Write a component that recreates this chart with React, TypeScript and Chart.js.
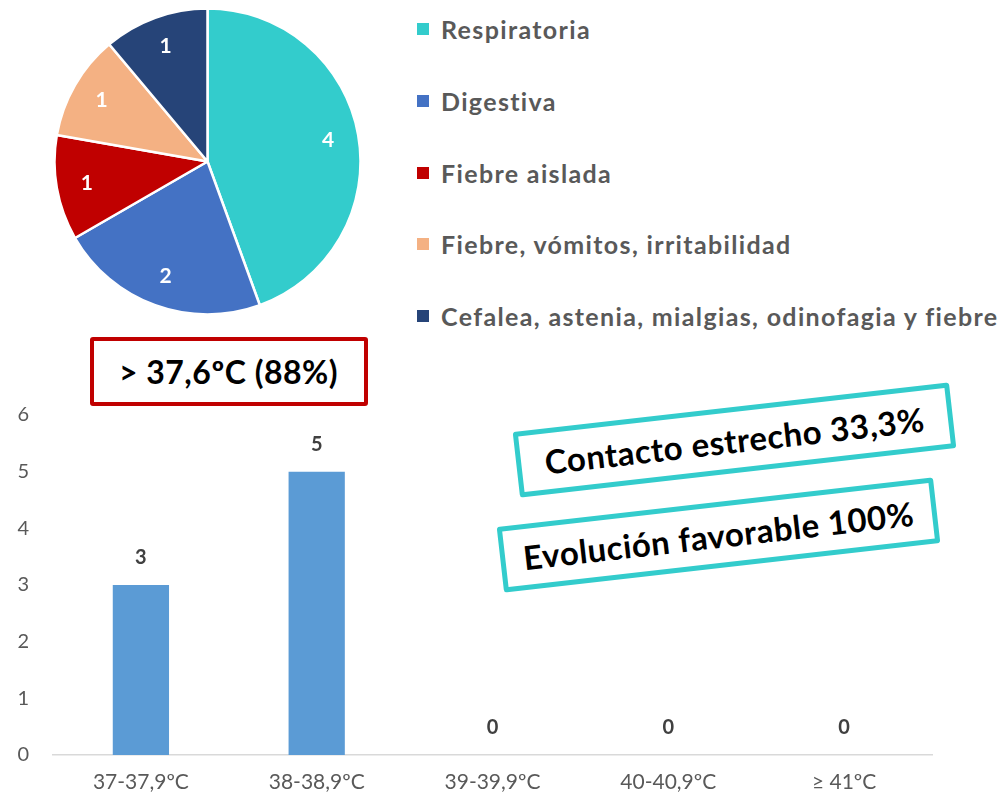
import React, { useEffect, useRef } from "react";
import { Chart, registerables } from "chart.js";

Chart.register(...registerables);

// Clinical presentation (pie)
const pieLabels = [
  "Respiratoria",
  "Digestiva",
  "Fiebre aislada",
  "Fiebre, vómitos, irritabilidad",
  "Cefalea, astenia, mialgias, odinofagia y fiebre",
];
const pieValues = [4, 2, 1, 1, 1];
const pieColors = ["#33CCCC", "#4472C4", "#C00000", "#F4B183", "#264478"];

// Maximum temperature (bars)
const barCategories = ["37-37,9ºC", "38-38,9ºC", "39-39,9ºC", "40-40,9ºC", "≥ 41ºC"];
const barValues = [3, 5, 0, 0, 0];
const barColor = "#5B9BD5";
const yMin = 0;
const yMax = 6;
const yStep = 1;

const feverNote = "> 37,6ºC (88%)";
const contactNote = "Contacto estrecho 33,3%";
const outcomeNote = "Evolución favorable 100%";

const FONT = "Lato, 'Open Sans', sans-serif";

// Writes each slice's value inside the slice
const pieValueLabels = {
  id: "pieValueLabels",
  afterDatasetsDraw(chart: any) {
    const ctx = chart.ctx;
    const meta = chart.getDatasetMeta(0);
    const data = chart.data.datasets[0].data;
    ctx.save();
    ctx.fillStyle = "#FFFFFF";
    ctx.font = `bold 21px ${FONT}`;
    ctx.textAlign = "center";
    ctx.textBaseline = "middle";
    meta.data.forEach((arc: any, i: number) => {
      const { x, y, startAngle, endAngle, outerRadius } = arc.getProps(
        ["x", "y", "startAngle", "endAngle", "outerRadius"],
        true
      );
      const mid = (startAngle + endAngle) / 2;
      const r = outerRadius * 0.8;
      ctx.fillText(String(data[i]), x + Math.cos(mid) * r, y + Math.sin(mid) * r);
    });
    ctx.restore();
  },
};

// Writes each bar's value above the bar
const barValueLabels = {
  id: "barValueLabels",
  afterDatasetsDraw(chart: any) {
    const ctx = chart.ctx;
    const meta = chart.getDatasetMeta(0);
    const data = chart.data.datasets[0].data;
    ctx.save();
    ctx.fillStyle = "#404040";
    ctx.font = `bold 20px ${FONT}`;
    ctx.textAlign = "center";
    ctx.textBaseline = "middle";
    meta.data.forEach((bar: any, i: number) => {
      ctx.fillText(String(data[i]), bar.x, bar.y - 27);
    });
    ctx.restore();
  },
};

function PieChart() {
  const ref = useRef<HTMLCanvasElement>(null);
  useEffect(() => {
    const chart = new Chart(ref.current!, {
      type: "pie",
      data: {
        labels: pieLabels,
        datasets: [
          {
            data: pieValues,
            backgroundColor: pieColors,
            borderColor: "#FFFFFF",
            borderWidth: 2.5,
          },
        ],
      },
      options: {
        animation: false,
        responsive: false,
        radius: 153,
        plugins: { legend: { display: false }, tooltip: { enabled: false } },
      } as any,
      plugins: [pieValueLabels],
    });
    return () => chart.destroy();
  }, []);
  return (
    <canvas
      ref={ref}
      width={415}
      height={323}
      style={{ position: "absolute", left: 0, top: 0, width: 415, height: 323 }}
    />
  );
}

function BarChart() {
  const ref = useRef<HTMLCanvasElement>(null);
  useEffect(() => {
    const chart = new Chart(ref.current!, {
      type: "bar",
      data: {
        labels: barCategories,
        datasets: [
          {
            data: barValues,
            backgroundColor: barColor,
            categoryPercentage: 1,
            barPercentage: 0.32,
          },
        ],
      },
      options: {
        animation: false,
        responsive: false,
        layout: { padding: { left: 0, right: 69, top: 14, bottom: 0 } },
        plugins: { legend: { display: false }, tooltip: { enabled: false } },
        scales: {
          x: {
            grid: { display: false, drawTicks: false },
            border: { display: true, color: "#D9D9D9", width: 1.5 },
            ticks: {
              color: "#595959",
              font: { family: FONT, size: 21 },
              padding: 15,
              maxRotation: 0,
            },
            afterFit(scale: any) {
              scale.height = 43;
            },
          },
          y: {
            min: yMin,
            max: yMax,
            grid: { display: false, drawTicks: false },
            border: { display: false },
            ticks: {
              stepSize: yStep,
              color: "#595959",
              font: { family: FONT, size: 20 },
              padding: 24,
            },
            afterFit(scale: any) {
              scale.width = 53;
            },
          },
        },
      } as any,
      plugins: [barValueLabels],
    });
    return () => chart.destroy();
  }, []);
  return (
    <canvas
      ref={ref}
      width={1001}
      height={419}
      style={{ position: "absolute", left: 0, top: 379, width: 1001, height: 419 }}
    />
  );
}

function Legend() {
  return (
    <>
      {pieLabels.map((label, i) => (
        <div
          key={label}
          style={{
            position: "absolute",
            left: 417,
            top: 29 + i * 71.75 - 17,
            height: 34,
            display: "flex",
            alignItems: "center",
            whiteSpace: "nowrap",
          }}
        >
          <span
            style={{
              display: "inline-block",
              width: 12,
              height: 12,
              background: pieColors[i],
              marginRight: 12,
            }}
          />
          <span
            style={{
              color: "#595959",
              fontWeight: 700,
              fontSize: 25,
              letterSpacing: 1.35,
              fontFamily: FONT,
            }}
          >
            {label}
          </span>
        </div>
      ))}
    </>
  );
}

function NoteBox(props: {
  text: string;
  cx: number;
  cy: number;
  w: number;
  h: number;
  color: string;
  border: number;
  angle: number;
  fontSize: number;
}) {
  const { text, cx, cy, w, h, color, border, angle, fontSize } = props;
  return (
    <div
      style={{
        position: "absolute",
        left: cx - w / 2,
        top: cy - h / 2,
        width: w,
        height: h,
        boxSizing: "border-box",
        border: `${border}px solid ${color}`,
        borderRadius: 3,
        background: "#FFFFFF",
        transform: `rotate(${angle}deg)`,
        display: "flex",
        alignItems: "center",
        justifyContent: "center",
        fontFamily: FONT,
        fontWeight: 700,
        fontSize,
        color: "#000000",
        whiteSpace: "nowrap",
        letterSpacing: 0.5,
      }}
    >
      {text}
    </div>
  );
}

export default function App() {
  return (
    <div
      style={{
        position: "fixed",
        left: 0,
        top: 0,
        width: 1001,
        height: 798,
        background: "#FFFFFF",
        overflow: "hidden",
        fontFamily: FONT,
      }}
    >
      <BarChart />
      <PieChart />
      <Legend />
      <NoteBox text={feverNote} cx={228.5} cy={371} w={278} h={69} color="#C00000" border={4.5} angle={0} fontSize={32} />
      <NoteBox text={contactNote} cx={734} cy={440} w={439} h={66} color="#33CCCC" border={5} angle={-6.5} fontSize={33} />
      <NoteBox text={outcomeNote} cx={718} cy={535} w={439} h={66} color="#33CCCC" border={5} angle={-6.5} fontSize={33} />
    </div>
  );
}
